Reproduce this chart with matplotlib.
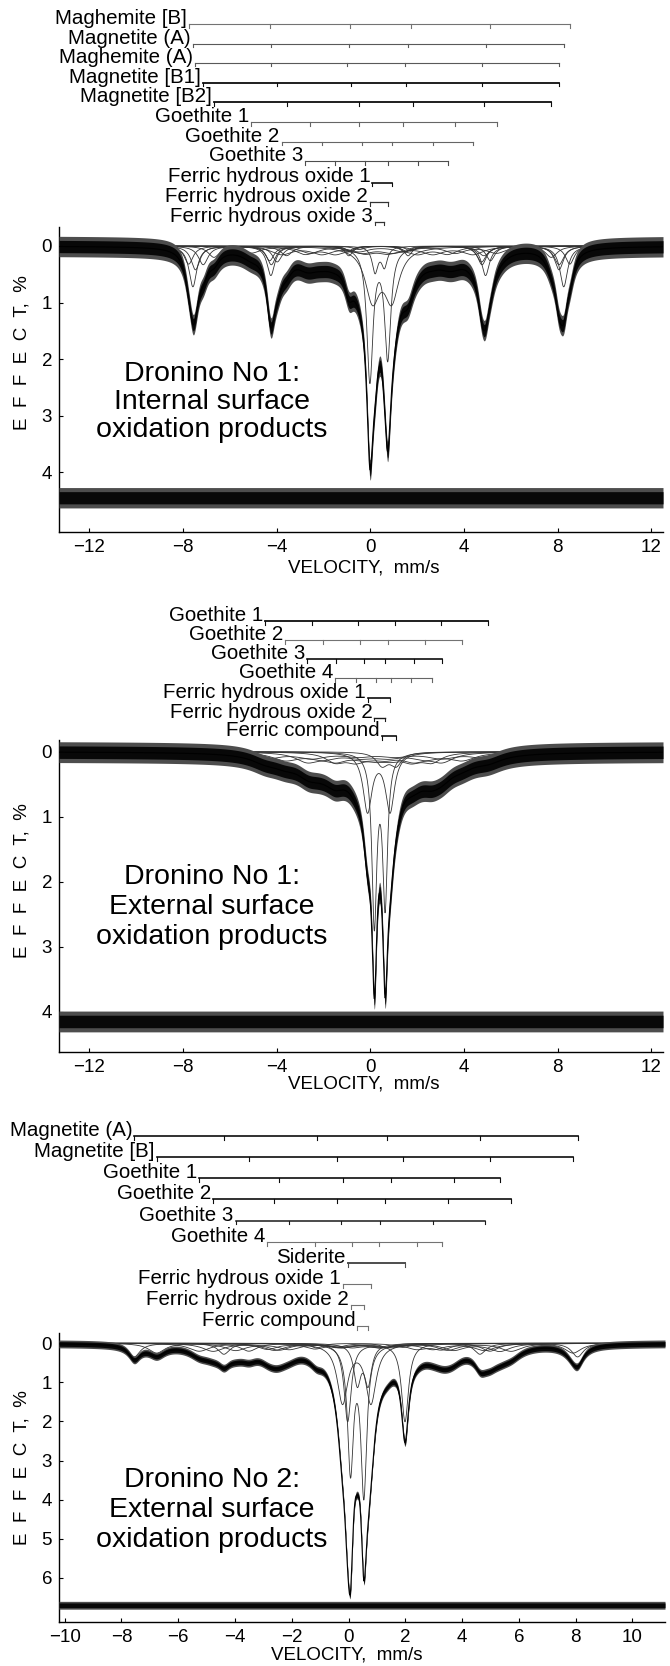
import numpy as np
import matplotlib.pyplot as plt
from matplotlib import transforms

plt.rcParams['font.family'] = ['Liberation Sans', 'DejaVu Sans']

W, H = 670, 1666

# ---------------- panel 1: Dronino No 1, internal surface ----------------
p1_names = ["Maghemite [B]", "Magnetite (A)", "Maghemite (A)", "Magnetite [B1]",
            "Magnetite [B2]", "Goethite 1", "Goethite 2", "Goethite 3",
            "Ferric hydrous oxide 1", "Ferric hydrous oxide 2", "Ferric hydrous oxide 3"]
p1_lines = [
    [-7.76, -4.30, -0.89, 1.72, 5.13, 8.52],
    [-7.58, -4.25, -0.92, 1.61, 4.92, 8.26],
    [-7.47, -4.23, -0.99, 1.46, 4.77, 8.06],
    [-7.14, -3.98, -0.84, 1.54, 4.75, 8.06],
    [-6.68, -3.58, -0.48, 1.82, 4.85, 7.73],
    [-5.09, -2.57, -0.48, 1.39, 3.62, 5.39],
    [-3.79, -2.07, -0.34, 0.94, 2.67, 4.39],
    [-2.79, -1.51, -0.22, 0.74, 2.02, 3.30],
    [0.09, 0.91],
    [-0.02, 0.74],
    [0.20, 0.60],
]
p1_depths = [
    [0.32, 0.26, 0.09, 0.09, 0.26, 0.32],
    [0.72, 0.52, 0.17, 0.17, 0.52, 0.72],
    [0.42, 0.33, 0.10, 0.10, 0.33, 0.42],
    [0.33, 0.28, 0.09, 0.09, 0.28, 0.33],
    [0.20, 0.17, 0.06, 0.06, 0.17, 0.20],
    [0.12, 0.12, 0.09, 0.09, 0.12, 0.12],
    [0.14, 0.13, 0.10, 0.10, 0.13, 0.14],
    [0.13, 0.12, 0.10, 0.10, 0.12, 0.13],
    [0.90, 0.90],
    [2.35, 1.95],
    [0.45, 0.35],
]
p1_widths = [0.45, 0.40, 0.45, 0.50, 0.60, 1.0, 1.1, 1.0, 0.75, 0.32, 0.30]
p1_bar_y = [24, 43.5, 62.7, 82.7, 102, 122, 141.5, 161, 182.5, 202, 221.5]
p1_noise = 0.18
p1_resid = 4.45

# ---------------- panel 2: Dronino No 1, external surface ----------------
p2_names = ["Goethite 1", "Goethite 2", "Goethite 3", "Goethite 4",
            "Ferric hydrous oxide 1", "Ferric hydrous oxide 2", "Ferric compound"]
p2_lines = [
    [-4.49, -2.49, -0.52, 1.06, 3.03, 5.02],
    [-3.63, -2.04, -0.44, 0.74, 2.34, 3.92],
    [-2.69, -1.48, -0.27, 0.64, 1.85, 3.06],
    [-1.50, -0.63, 0.24, 0.88, 1.75, 2.62],
    [-0.12, 0.84],
    [0.17, 0.63],
    [0.50, 1.10],
]
p2_depths = [
    [0.10, 0.09, 0.06, 0.06, 0.09, 0.10],
    [0.12, 0.10, 0.07, 0.07, 0.10, 0.12],
    [0.14, 0.12, 0.08, 0.08, 0.12, 0.14],
    [0.14, 0.12, 0.08, 0.08, 0.12, 0.14],
    [0.90, 0.90],
    [2.60, 2.30],
    [0.20, 0.20],
]
p2_widths = [1.5, 1.4, 1.2, 1.0, 0.46, 0.25, 0.6]
p2_bar_y = [621, 640, 659, 678, 698, 717.5, 736.5]
p2_noise = 0.16
p2_resid = 4.15

# ---------------- panel 3: Dronino No 2, external surface ----------------
p3_names = ["Magnetite (A)", "Magnetite [B]", "Goethite 1", "Goethite 2", "Goethite 3",
            "Goethite 4", "Siderite", "Ferric hydrous oxide 1", "Ferric hydrous oxide 2",
            "Ferric compound"]
p3_lines = [
    [-7.55, -4.39, -1.12, 1.37, 4.63, 8.07],
    [-6.76, -3.51, -0.41, 1.91, 4.98, 7.91],
    [-5.26, -2.45, -0.21, 1.50, 3.70, 5.33],
    [-4.77, -2.61, -0.39, 1.27, 3.49, 5.73],
    [-3.98, -2.09, -0.25, 1.12, 2.97, 4.80],
    [-2.86, -1.18, 0.13, 1.08, 2.40, 3.28],
    [-0.03, 1.99],
    [-0.21, 0.79],
    [0.07, 0.54],
    [0.31, 0.69],
]
p3_depths = [
    [0.35, 0.28, 0.12, 0.12, 0.28, 0.35],
    [0.25, 0.20, 0.10, 0.10, 0.20, 0.25],
    [0.20, 0.17, 0.10, 0.10, 0.17, 0.20],
    [0.20, 0.17, 0.10, 0.10, 0.17, 0.20],
    [0.18, 0.15, 0.10, 0.10, 0.15, 0.18],
    [0.15, 0.13, 0.09, 0.09, 0.13, 0.15],
    [2.00, 2.00],
    [1.50, 1.50],
    [3.20, 3.80],
    [1.00, 1.00],
]
p3_widths = [0.5, 0.7, 0.9, 0.9, 0.9, 0.8, 0.30, 0.45, 0.25, 0.30]
p3_bar_y = [1136, 1157.3, 1178.3, 1199.3, 1220.7, 1242, 1263, 1284, 1305, 1326]
p3_noise = 0.10
p3_resid = 6.7

# bar styles (line width, grey level) for the stick diagrams
p1_bar_style = [(0.8, '0.45'), (0.8, '0.35'), (0.8, '0.35'), (1.3, '0.05'), (1.3, '0.05'),
                (0.8, '0.4'), (0.8, '0.4'), (0.8, '0.3'), (1.2, '0.05'), (0.9, '0.2'), (0.9, '0.2')]
p2_bar_style = [(1.3, '0.05'), (0.8, '0.45'), (1.2, '0.05'), (0.8, '0.4'),
                (1.2, '0.05'), (1.0, '0.1'), (1.2, '0.05')]
p3_bar_style = [(1.2, '0.05'), (1.2, '0.05'), (1.2, '0.05'), (1.2, '0.05'), (1.1, '0.1'),
                (0.8, '0.45'), (1.4, '0.3'), (0.8, '0.45'), (0.8, '0.45'), (0.8, '0.45')]

panels = [
    dict(names=p1_names, lines=p1_lines, depths=p1_depths, widths=p1_widths, bar_y=p1_bar_y,
         bar_style=p1_bar_style, noise=p1_noise, resid=p1_resid,
         xlim=(-13.3, 12.5), ylim=(5.05, -0.34), xticks=[-12, -8, -4, 0, 4, 8, 12],
         yticks=[0, 1, 2, 3, 4], top=226.7, bottom=531.7, right=663,
         title="Dronino No 1:\nInternal surface\noxidation products", title_y=402,
         title_ls=1.1, ylab_y=353, xlab_y=568, xlab_x=364),
    dict(names=p2_names, lines=p2_lines, depths=p2_depths, widths=p2_widths, bar_y=p2_bar_y,
         bar_style=p2_bar_style, noise=p2_noise, resid=p2_resid,
         xlim=(-13.3, 12.5), ylim=(4.615, -0.18), xticks=[-12, -8, -4, 0, 4, 8, 12],
         yticks=[0, 1, 2, 3, 4], top=740, bottom=1051.7, right=663,
         title="Dronino No 1:\nExternal surface\noxidation products", title_y=907,
         title_ls=1.18, ylab_y=881, xlab_y=1084, xlab_x=364),
    dict(names=p3_names, lines=p3_lines, depths=p3_depths, widths=p3_widths, bar_y=p3_bar_y,
         bar_style=p3_bar_style, noise=p3_noise, resid=p3_resid,
         xlim=(-10.2, 11.15), ylim=(7.12, -0.26), xticks=list(range(-10, 11, 2)),
         yticks=[0, 1, 2, 3, 4, 5, 6], top=1333, bottom=1621.7, right=665,
         title="Dronino No 2:\nExternal surface\noxidation products", title_y=1510,
         title_ls=1.22, ylab_y=1468, xlab_y=1655, xlab_x=347),
]


def lorentz(v, pos, depth, width):
    return depth / (1.0 + ((v - pos) / (width / 2.0)) ** 2)


fig = plt.figure(figsize=(W / 100, H / 100), dpi=100)
LEFT = 59

for p in panels:
    ax = fig.add_axes([LEFT / W, 1 - p['bottom'] / H, (p['right'] - LEFT) / W,
                       (p['bottom'] - p['top']) / H])
    v = np.linspace(p['xlim'][0], p['xlim'][1], 3000)

    comps = []
    for pos, dep, w in zip(p['lines'], p['depths'], p['widths']):
        c = np.zeros_like(v)
        for x0, d in zip(pos, dep):
            c += lorentz(v, x0, d, w)
        comps.append(c)
    env = np.sum(comps, axis=0)

    for c in comps:
        ax.plot(v, c, color='0.2', lw=0.6, zorder=2)
    # measured spectrum drawn as a noise band around the fit, fuzzy edge + dark core
    a = p['noise']
    ax.fill_between(v, env - a, env + a, color='0.3', lw=0, zorder=3)
    ax.fill_between(v, env - 0.6 * a, env + 0.6 * a, color='0.03', lw=0, zorder=3)
    ax.plot(v, env, color='k', lw=0.8, zorder=4)
    ax.fill_between(v, p['resid'] - a, p['resid'] + a, color='0.3', lw=0, zorder=3)
    ax.fill_between(v, p['resid'] - 0.6 * a, p['resid'] + 0.6 * a, color='0.03', lw=0, zorder=3)

    ax.set_xlim(*p['xlim'])
    ax.set_ylim(*p['ylim'])
    ax.set_xticks(p['xticks'])
    ax.set_yticks(p['yticks'])
    ax.tick_params(direction='in', length=3, labelsize=13.5, pad=5)
    for s in ['top', 'right']:
        ax.spines[s].set_visible(False)
    for s in ['left', 'bottom']:
        ax.spines[s].set_linewidth(1.0)

    # stick diagram above the spectrum
    tr = transforms.blended_transform_factory(ax.transData, fig.transFigure)
    tr_lab = transforms.offset_copy(tr, fig=fig, x=-2, y=0, units='dots')
    for name, pos, yb, (lw, col) in zip(p['names'], p['lines'], p['bar_y'], p['bar_style']):
        yf = 1 - yb / H
        ax.plot([pos[0], pos[-1]], [yf, yf], transform=tr, clip_on=False, color=col, lw=lw)
        for x0 in pos:
            ax.plot([x0, x0], [yf, yf - 3.5 / H], transform=tr, clip_on=False, color=col, lw=0.8)
        ax.text(pos[0], yf, name, transform=tr_lab, ha='right', va='baseline', fontsize=14.8)

    fig.text(211.6 / W, 1 - p['title_y'] / H, p['title'], ha='center', va='center',
             multialignment='center', fontsize=20.5, linespacing=p['title_ls'])
    fig.text(22 / W, 1 - p['ylab_y'] / H, "E  F  F  E  C  T,  %", rotation=90, ha='center',
             va='center', fontsize=13.5)
    fig.text(p['xlab_x'] / W, 1 - p['xlab_y'] / H, "VELOCITY,  mm/s", ha='center',
             va='center', fontsize=13.5)

fig.savefig('out.png', dpi=100)
